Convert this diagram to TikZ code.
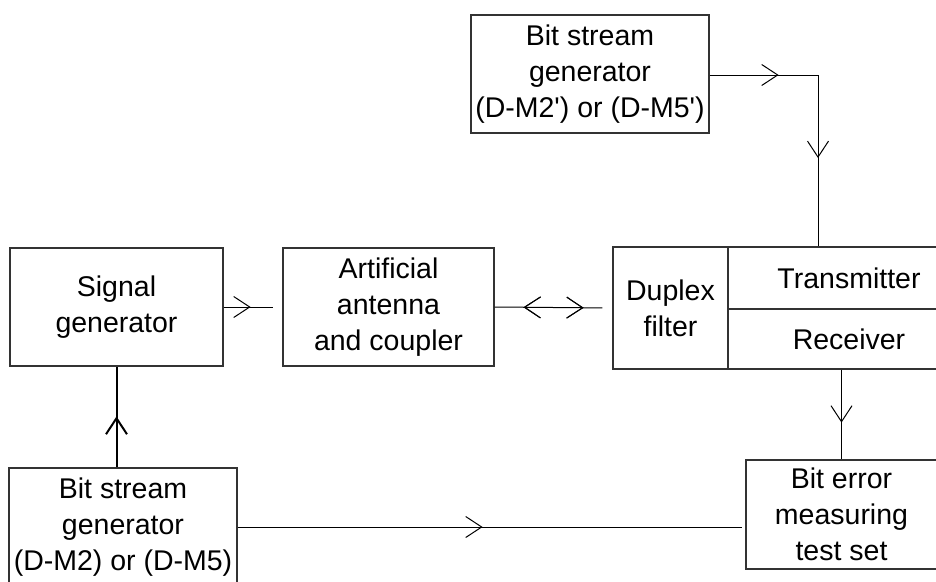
\documentclass[tikz,border=0pt]{standalone}
\usepackage{fontspec}
\setmainfont{Liberation Sans}
\usetikzlibrary{arrows.meta,decorations.markings}
\tikzset{
  blk/.style={draw=black!80, line width=1.2pt, inner sep=0pt, align=center,
    font=\fontsize{28.5}{36}\selectfont},
  wire/.style={line width=1pt},
  fwd/.style={postaction={decorate}, decoration={markings,
    mark=at position #1 with {\arrow{Straight Barb[length=16pt,width=21pt]}}}},
  bwd/.style={postaction={decorate}, decoration={markings,
    mark=at position #1 with {\arrowreversed{Straight Barb[length=16pt,width=21pt]}}}},
}
\begin{document}
\begin{tikzpicture}[x=1pt,y=-1pt]
  \useasboundingbox (0,0) rectangle (936,581);
  \clip (0,0) rectangle (936,581);
  \draw
    (590,74) node[blk, minimum width=238, minimum height=118] (gen2)
      {Bit stream\\generator\\(D-M2\textquotesingle) or (D-M5\textquotesingle)}
    (116.5,307) node[blk, minimum width=213, minimum height=118] (sig)
      {Signal\\generator}
    (388.5,307) node[blk, minimum width=211, minimum height=118] (art)
      {Artificial\\antenna\\and coupler}
    (670.5,308) node[blk, minimum width=115, minimum height=122] (dup)
      {Duplex\\filter}
    (849,278) node[blk, minimum width=242, minimum height=62] (tx)
      {Transmitter}
    (849,339) node[blk, minimum width=242, minimum height=60] (rx)
      {Receiver}
    (841.5,514.5) node[blk, minimum width=191, minimum height=109] (ber)
      {Bit error\\measuring\\test set}
    (123,527) node[blk, minimum width=228, minimum height=118] (gen1)
      {Bit stream\\generator\\(D-M2) or (D-M5)};
  \coordinate (c1) at (818,75);
  \begin{scope}[wire]
    \draw[fwd=69pt] (gen2.east |- c1) -- (c1);
    \draw[fwd=83pt] (c1) -- (c1 |- dup.north);
    \draw[fwd=27pt, shorten >=9pt] (sig.east) -- (art.west);
    \draw[bwd=29pt, fwd=89pt, shorten >=10pt] (art.east) -- (dup.west);
    \draw[fwd=53pt] (ber.north |- rx.south) -- (ber.north);
    \draw[fwd=245pt, shorten >=3pt] (gen1.east) -- (gen1.east -| ber.west);
    \draw[fwd=51pt, line width=2pt] (sig.south |- gen1.north) -- (sig.south);
  \end{scope}
\end{tikzpicture}
\end{document}
